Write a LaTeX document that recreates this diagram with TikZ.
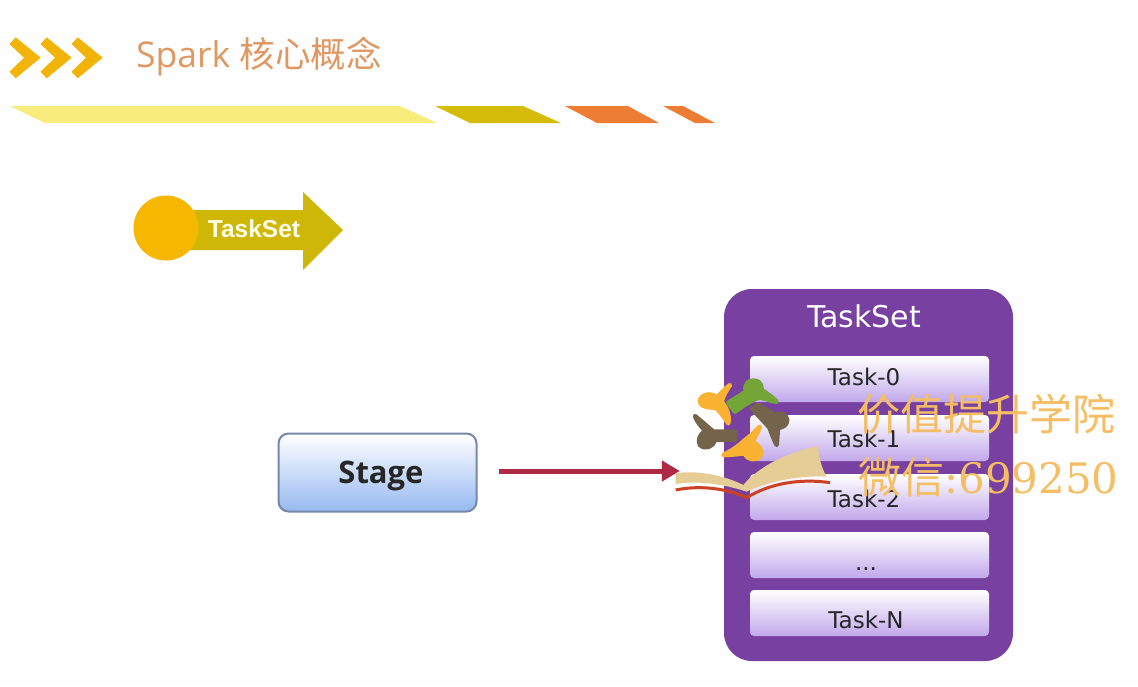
\documentclass[tikz,border=0pt]{standalone}
\usepackage{fontspec}
\setmainfont{Open Sans}
\newfontfamily\cjk{Noto Sans CJK SC}
\newfontfamily\wmserif{DejaVu Serif}
\newfontfamily\labelsans{DejaVu Sans}
\newfontfamily\boldsans{Liberation Sans}[BoldFont={Liberation Sans Bold}]
\usetikzlibrary{arrows.meta}
\definecolor{chevroncol}{RGB}{243,180,10}
\definecolor{titlecol}{RGB}{224,152,98}
\definecolor{bandone}{RGB}{248,236,125}
\definecolor{bandtwo}{RGB}{214,188,10}
\definecolor{bandthree}{RGB}{237,125,50}
\definecolor{arrowcol}{RGB}{207,183,8}
\definecolor{circlecol}{RGB}{245,183,0}
\definecolor{groupcol}{RGB}{120,64,160}
\definecolor{taskbot}{RGB}{193,168,235}
\definecolor{stagebot}{RGB}{150,185,240}
\definecolor{stageedge}{RGB}{118,136,170}
\definecolor{linkcol}{RGB}{175,40,70}
\definecolor{wmcol}{RGB}{245,190,100}
\definecolor{logoorange}{RGB}{250,178,50}
\definecolor{logogreen}{RGB}{115,165,55}
\definecolor{logobrown}{RGB}{115,100,75}
\definecolor{bookcol}{RGB}{230,205,150}
\definecolor{bookred}{RGB}{205,65,35}
\tikzset{
  chevronshape/.style={fill=chevroncol,draw=none},
  taskbox/.style={rounded corners=4pt,minimum width=239pt,minimum height=46pt,inner sep=0pt,
    top color=white,bottom color=taskbot,draw=none},
  tasklabel/.style={inner sep=0pt,anchor=base,font=\labelsans\fontsize{23}{27}\selectfont,text=black!85},
  wmtext/.style={text=wmcol,inner sep=0pt,anchor=base west,font=\cjk\fontsize{43}{48}\selectfont},
  logopart/.style={line width=4.5pt,line join=round}
}
\begin{document}
\begin{tikzpicture}[x=1pt,y=-1pt]
\useasboundingbox (0,0) rectangle (1138,686);
\fill[white!99.5!black] (0,0) rectangle (1138,686);
% chevrons
\foreach \d in {0,31,62}{
  \fill[chevronshape,xshift=\d pt] (9.5,44) -- (15.7,37.3) -- (40.7,57.7) -- (15.7,78.3) -- (9.5,71.7) -- (24,57.7) -- cycle;
}
\node[inner sep=0pt,anchor=base west,text=titlecol,font=\fontsize{35.5}{40}\selectfont] (title) at (136,67) {Spark {\cjk 核心概念}};
% bands
\fill[bandone] (10,106) -- (400,106) -- (437,123) -- (45,123) -- cycle;
\fill[bandtwo] (435,106) -- (523,106) -- (561,123) -- (470,123) -- cycle;
\fill[bandthree] (565,106) -- (628,106) -- (659,123) -- (597,123) -- cycle;
\fill[bandthree] (663,106) -- (683,106) -- (715,123) -- (695,123) -- cycle;
% section arrow
\fill[arrowcol] (166,210) -- (303,210) -- (303,192) -- (343,230) -- (303,270) -- (303,250) -- (166,250) -- cycle;
\fill[circlecol] (166,228) circle (32.5);
\node[inner sep=0pt,anchor=base,text=white!90!yellow,font=\boldsans\bfseries\fontsize{24.5}{28}\selectfont] (sectionlabel) at (254,237) {TaskSet};
% group
\node[rounded corners=28pt,fill=groupcol,minimum width=289pt,minimum height=372pt,inner sep=0pt,draw=none] (group) at (868.5,475) {};
\node[inner sep=0pt,anchor=base,text=white,font=\labelsans\fontsize{30}{35}\selectfont] (grouplabel) at (864,327) {TaskSet};
\node[taskbox] (t0) at (869.5,379) {};
\node[taskbox] (t1) at (869.5,438) {};
\node[taskbox] (t2) at (869.5,497) {};
\node[taskbox] (t3) at (869.5,555) {};
\node[taskbox] (t4) at (869.5,613) {};
\node[tasklabel] (t0label) at (864,385) {Task-0};
\node[tasklabel] (t1label) at (864,447) {Task-1};
\node[tasklabel] (t2label) at (864,507) {Task-2};
\node[tasklabel] (t3label) at (866,570) {...};
\node[tasklabel] (t4label) at (866,628) {Task-N};
% stage
\node[rounded corners=10pt,draw=stageedge,line width=2pt,top color=white,bottom color=stagebot,
  minimum width=198pt,minimum height=78pt,inner sep=0pt] (stage) at (377.5,472.5) {};
\node[inner sep=0pt,anchor=base,font=\bfseries\fontsize{31}{36}\selectfont,text=black!85] (stagelabel) at (381,483) {Stage};
\draw[linkcol,line width=5pt,shorten <=21pt,shorten >=44pt,-{Triangle[length=18pt,width=20pt]}]
  ([yshift=1.5pt]stage.east) -- ([yshift=1.5pt]stage.east -| group.west);
% watermark logo
\begin{scope}[shift={(660,340)},x=0.3333pt,y=-0.3333pt]
\filldraw[logopart,logoorange] (210,135) .. controls (190,150) and (180,165) .. (170,172) .. controls (150,155) and (120,165) .. (120,185) .. controls (125,205) and (150,200) .. (170,205) .. controls (185,220) and (195,235) .. (205,250) .. controls (210,225) and (200,205) .. (185,185) .. controls (190,165) and (200,150) .. (210,135) -- cycle;
\filldraw[logopart,logogreen] (295,125) .. controls (270,115) and (250,130) .. (258,155) -- (205,188) -- (225,215) .. controls (250,195) and (270,185) .. (295,172) .. controls (320,175) and (335,185) .. (350,185) .. controls (335,170) and (320,160) .. (305,150) .. controls (305,140) and (303,130) .. (295,125) -- cycle;
\filldraw[logopart,logobrown] (275,205) -- (298,195) -- (345,225) .. controls (360,215) and (380,225) .. (382,240) .. controls (382,255) and (365,265) .. (355,262) .. controls (352,280) and (352,300) .. (350,315) .. controls (340,295) and (335,280) .. (328,262) -- cycle;
\filldraw[logopart,logobrown] (105,228) .. controls (125,245) and (145,262) .. (160,275) -- (225,275) -- (225,300) -- (165,300) .. controls (160,320) and (135,330) .. (120,315) .. controls (112,300) and (120,285) .. (135,272) .. controls (125,260) and (110,245) .. (105,228) -- cycle;
\filldraw[logopart,logoorange] (300,260) .. controls (285,275) and (270,290) .. (255,300) .. controls (235,320) and (210,335) .. (190,345) .. controls (215,345) and (235,342) .. (255,340) .. controls (260,360) and (290,365) .. (302,345) .. controls (308,330) and (295,315) .. (278,305) .. controls (285,290) and (295,275) .. (300,260) -- cycle;
\fill[bookcol] (47,400) .. controls (110,390) and (190,405) .. (250,435) .. controls (300,375) and (390,335) .. (475,318) .. controls (475,350) and (485,385) .. (500,410) .. controls (420,405) and (320,425) .. (260,455) .. controls (200,435) and (120,420) .. (47,432) -- cycle;
\draw[bookred,line width=3pt] (47,450) .. controls (120,435) and (200,445) .. (260,473) .. controls (330,430) and (420,415) .. (510,428);
\end{scope}
\node[wmtext] (wm1) at (857,430) {价值提升学院};
\node[wmtext] (wm2) at (858,493) {微信{\wmserif\fontsize{42}{48}\selectfont :699250}};
\end{tikzpicture}
\end{document}
